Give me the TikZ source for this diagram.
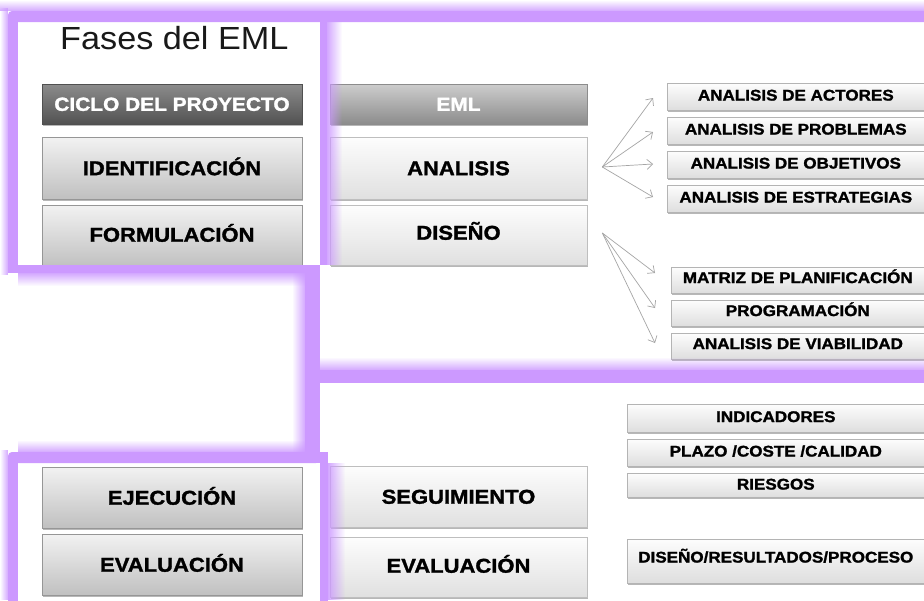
\documentclass[tikz,border=0pt]{standalone}
\usepackage{fontspec}
\setmainfont{Liberation Sans}
\newfontfamily\bxfont[FakeStretch=1.1, BoldFeatures={FakeBold=1.5}]{Liberation Sans}
\newfontfamily\ttlfont[FakeStretch=1.07]{Liberation Sans}
\usetikzlibrary{arrows.meta,calc,shadows,fadings}
\definecolor{pur}{RGB}{204,153,255}
\definecolor{arrgray}{RGB}{165,165,165}
\tikzset{
  basebox/.style={line width=0.6pt, inner sep=0pt, align=center,
    drop shadow={shadow xshift=0.8pt, shadow yshift=-1.6pt, opacity=0.4, fill=black!70}},
  bigfont/.style={font=\bxfont\bfseries\fontsize{20}{20}\selectfont, text height=14.4pt, text depth=0pt},
  hdfont/.style={font=\bxfont\bfseries\fontsize{19}{19}\selectfont, text height=13.7pt, text depth=0pt},
  smfont/.style={font=\bxfont\bfseries\fontsize{15.5}{15.5}\selectfont, text height=11.1pt, text depth=3pt},
  leftbox/.style={basebox, bigfont, draw={rgb,255:red,150;green,150;blue,150}, minimum width=260pt,
    top color={rgb,255:red,242;green,242;blue,242}, bottom color={rgb,255:red,192;green,192;blue,192}},
  midbox/.style={basebox, bigfont, draw={rgb,255:red,190;green,190;blue,190}, minimum width=257pt,
    top color={rgb,255:red,253;green,253;blue,253}, bottom color={rgb,255:red,224;green,224;blue,224}},
  darkhead/.style={basebox, hdfont, text=white, draw={rgb,255:red,80;green,80;blue,80}, minimum width=260pt, minimum height=40pt,
    top color={rgb,255:red,140;green,140;blue,140}, bottom color={rgb,255:red,82;green,82;blue,82}},
  lighthead/.style={basebox, hdfont, text=white, draw={rgb,255:red,140;green,140;blue,140}, minimum width=257pt, minimum height=40pt,
    top color={rgb,255:red,205;green,205;blue,205}, bottom color={rgb,255:red,140;green,140;blue,140}},
  smbox/.style={basebox, smfont, draw={rgb,255:red,180;green,180;blue,180},
    top color={rgb,255:red,253;green,253;blue,253}, bottom color={rgb,255:red,222;green,222;blue,222}},
  arr/.style={draw=arrgray, line width=0.7pt, -{Straight Barb[length=5.5pt,width=10pt]}},
  band/.style={fill=pur},
  glow/.style={fill=pur, opacity=0.85}
}
\begin{document}
\begin{tikzpicture}[x=1pt,y=-1pt]
\useasboundingbox (0,0) rectangle (924,600);
\fill[white] (0,0) rectangle (924,600);

% title
\node[anchor=base west, inner sep=0pt, text={rgb,255:red,25;green,25;blue,25},
  font=\ttlfont\fontsize{32}{32}\selectfont] (title) at (60,49) {Fases del EML};

% left column
\node[darkhead] (ciclo) at (172,104) {CICLO DEL PROYECTO};
\node[leftbox, minimum height=62pt] (ident) at (172,168) {IDENTIFICACIÓN};
\node[leftbox, minimum height=62pt, text depth=3pt] (formu) at (172,236) {FORMULACIÓN};
\node[leftbox, minimum height=61pt] (ejec) at (172,497.5) {EJECUCIÓN};
\node[leftbox, minimum height=61pt] (evall) at (172,564.5) {EVALUACIÓN};

% middle column
\node[lighthead] (eml) at (458.5,104) {EML};
\node[midbox, minimum height=62pt] (anal) at (458.5,168) {ANALISIS};
\node[midbox, minimum height=60pt, text depth=5pt] (dis) at (458.5,235) {DISEÑO};
\node[midbox, minimum height=61pt] (seg) at (458.5,496.5) {SEGUIMIENTO};
\node[midbox, minimum height=60pt, text depth=3pt] (evalm) at (458.5,567) {EVALUACIÓN};

% right group 1
\node[smbox, minimum width=268pt, minimum height=27pt, anchor=west] (act) at (667,96.5) {\hspace*{-11pt}ANALISIS DE ACTORES};
\node[smbox, minimum width=268pt, minimum height=27pt, anchor=west] (prob) at (667,130.5) {\hspace*{-11pt}ANALISIS DE PROBLEMAS};
\node[smbox, minimum width=268pt, minimum height=27pt, anchor=west] (obj) at (667,164.5) {\hspace*{-11pt}ANALISIS DE OBJETIVOS};
\node[smbox, minimum width=268pt, minimum height=27pt, anchor=west] (est) at (667,198.5) {\hspace*{-11pt}ANALISIS DE ESTRATEGIAS};

% right group 2
\node[smbox, minimum width=264pt, minimum height=26pt, anchor=west, text depth=5pt] (mat) at (671,280) {\hspace*{-11pt}MATRIZ DE PLANIFICACIÓN};
\node[smbox, minimum width=264pt, minimum height=26pt, anchor=west, text depth=5pt] (prog) at (671,313) {\hspace*{-11pt}PROGRAMACIÓN};
\node[smbox, minimum width=264pt, minimum height=26pt, anchor=west, text depth=5pt] (via) at (671,346) {\hspace*{-11pt}ANALISIS DE VIABILIDAD};

% right group 3
\node[smbox, minimum width=308pt, minimum height=28pt, anchor=west] (ind) at (627,418) {\hspace*{-11pt}INDICADORES};
\node[smbox, minimum width=308pt, minimum height=27pt, anchor=west] (plazo) at (627,452.5) {\hspace*{-11pt}PLAZO /COSTE /CALIDAD};
\node[smbox, minimum width=308pt, minimum height=24pt, anchor=west, text depth=2pt] (ries) at (627,485) {\hspace*{-11pt}RIESGOS};
\node[smbox, minimum width=308pt, minimum height=44pt, anchor=west, text depth=8pt] (dis2) at (627,561) {\hspace*{-11pt}DISEÑO/RESULTADOS/PROCESO};

% arrows
\coordinate (o1) at ($(anal.east)+(15,-1)$);
\draw[arr] (o1) -- ($(act.west)+(-14,1.5)$);
\draw[arr] (o1) -- ($(prob.west)+(-14,1.5)$);
\draw[arr] (o1) -- ($(obj.west)+(-14,-0.5)$);
\draw[arr] (o1) -- ($(est.west)+(-14,-1.5)$);
\coordinate (o2) at ($(dis.east)+(15,-2)$);
\draw[arr] (o2) -- ($(mat.west)+(-16,-7)$);
\draw[arr] (o2) -- ($(prog.west)+(-16,-5)$);
\draw[arr] (o2) -- ($(via.west)+(-16,-3)$);

% purple glows
\fill[glow, path fading=north] (0,0) rectangle (924,11);
\fill[glow, path fading=west] (0,8) rectangle (8,275);
\fill[glow, path fading=west] (0,450) rectangle (8,600);
\fill[glow, path fading=south] (18,273) rectangle (305,286);
\fill[glow, path fading=west] (292,273) rectangle (305,452);
\fill[glow, path fading=north] (18,440) rectangle (305,452);
\fill[glow, path fading=north] (319,357) rectangle (924,370);
\fill[glow, path fading=east] (327,22) rectangle (342,265);
\fill[glow, path fading=east] (328,463) rectangle (345,600);

% purple bands
\fill[band, rounded corners=4pt] (8,11) rectangle (930,22);
\fill[band] (8,18) rectangle (18,273);
\fill[band] (8,265) rectangle (320,273);
\fill[band] (305,265) rectangle (320,463);
\fill[band, rounded corners=4pt] (8,452) rectangle (320,463);
\fill[band] (8,458) rectangle (18,605);
\fill[band] (319,370) rectangle (930,383);
\fill[band] (320,20) rectangle (327,265);
\fill[band] (320,452) rectangle (328,605);
\end{tikzpicture}
\end{document}
